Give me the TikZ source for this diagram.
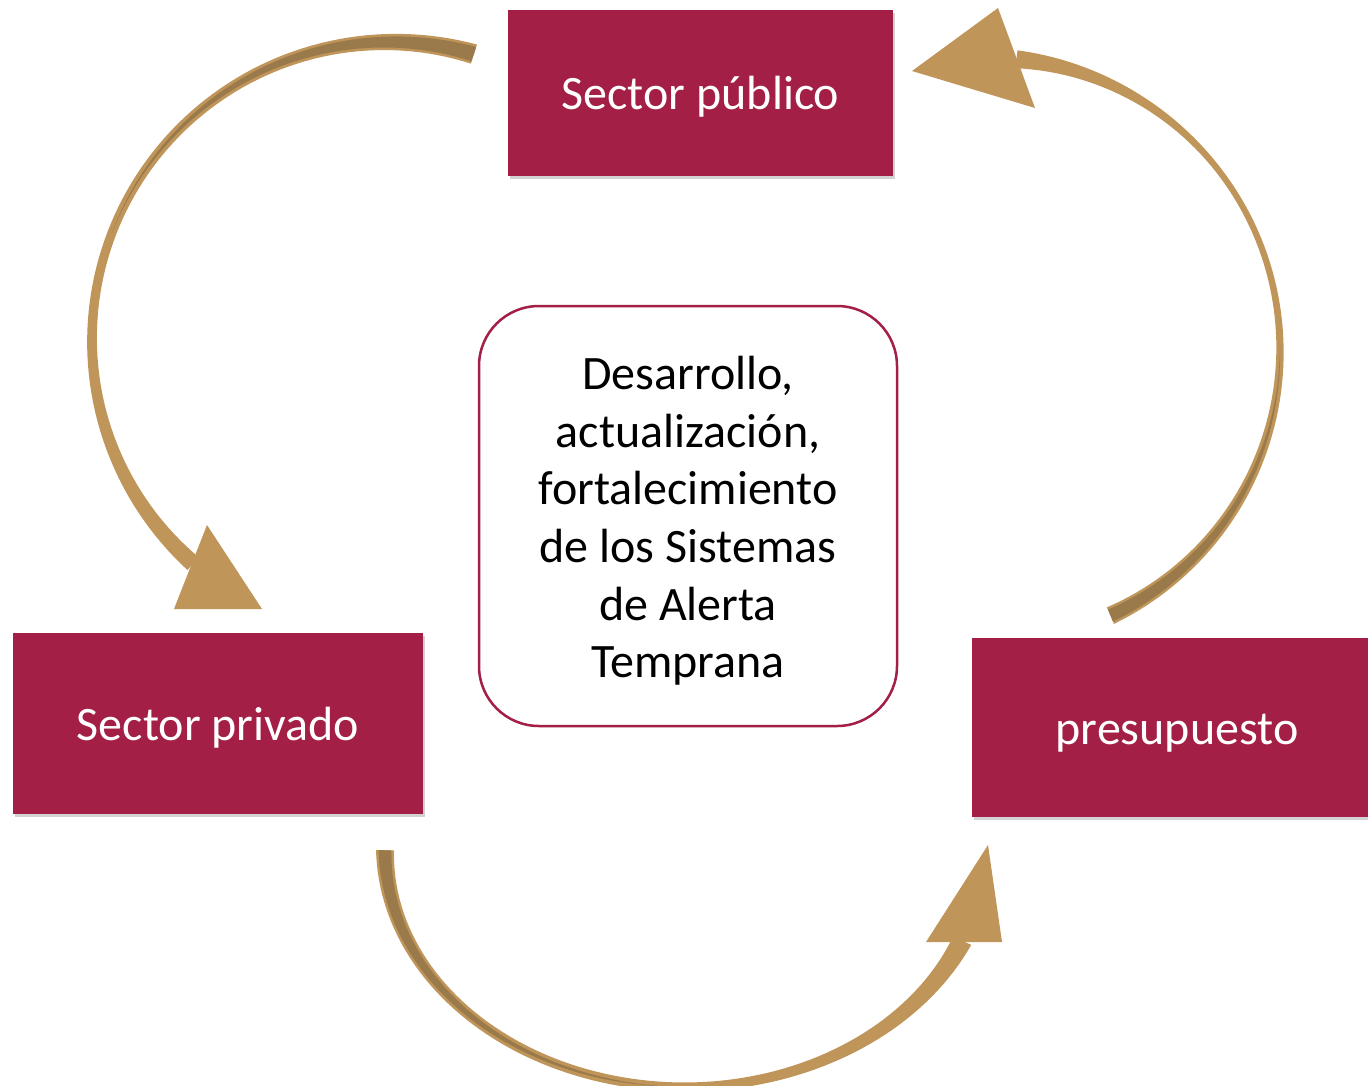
\documentclass[tikz,border=0pt]{standalone}
\usepackage{fontspec}
\setmainfont{Carlito}
\usetikzlibrary{shadows}
\definecolor{guinda}{RGB}{163,31,69}
\definecolor{oro}{RGB}{191,149,90}
\definecolor{orooscuro}{RGB}{154,122,75}

\begin{document}
\begin{tikzpicture}[x=1pt, y=-1pt,
    caja/.style={fill=guinda, text=white, inner sep=0pt, font=\fontsize{48}{57.6}\selectfont,
                 text height=38pt, text depth=5pt,
                 drop shadow={shadow xshift=2pt, shadow yshift=-3pt, opacity=0.35}},
    centro/.style={draw=guinda, line width=2.5pt, fill=white, rounded corners=60pt,
                   minimum width=418pt, minimum height=420pt, align=center,
                   font=\fontsize{48}{57.6}\selectfont},
    declare function={sq(\x)=(\x)*(\x);
        rib(\s,\a,\m,\b,\k)=\m+((\s<\k) ? ((\a-\m)*sq((\s-\k)/\k)) : ((\b-\m)*sq((\s-\k)/(1-\k))));}]

    \path[use as bounding box, fill=white] (0,0) rectangle (1368,1085);

    \foreach \cx/\cy/\rx/\ry/\ta/\tb/\wa/\wm/\wb/\sm/\se in {
        390/340/298/298/-73.6/-228.7/20/9/17/0.55/0.55,
        990/350/290/292/65.5/-84.8/18/6/18/0.65/0.45,
        685/850/300/237/180/22.5/18/9/20/0.55/0.55}
    {
        \fill[oro] plot[domain=0:1, samples=90, variable=\s]
            ({\cx+(\rx+0.5*rib(\s,\wa,\wm,\wb,\sm))*cos(\ta+(\tb-\ta)*\s)},
             {\cy+(\ry+0.5*rib(\s,\wa,\wm,\wb,\sm))*sin(\ta+(\tb-\ta)*\s)})
            -- plot[domain=1:0, samples=90, variable=\s]
            ({\cx+(\rx-0.5*rib(\s,\wa,\wm,\wb,\sm))*cos(\ta+(\tb-\ta)*\s)},
             {\cy+(\ry-0.5*rib(\s,\wa,\wm,\wb,\sm))*sin(\ta+(\tb-\ta)*\s)}) -- cycle;
        \fill[orooscuro] plot[domain=0:\se, samples=60, variable=\s]
            ({\cx+(\rx+0.5*(rib(\s,\wa,\wm,\wb,\sm)-5)*(1-(\s/\se)^3))*cos(\ta+(\tb-\ta)*\s)},
             {\cy+(\ry+0.5*(rib(\s,\wa,\wm,\wb,\sm)-5)*(1-(\s/\se)^3))*sin(\ta+(\tb-\ta)*\s)})
            -- plot[domain=\se:0, samples=60, variable=\s]
            ({\cx+(\rx-0.5*(rib(\s,\wa,\wm,\wb,\sm)-5)*(1-(\s/\se)^3))*cos(\ta+(\tb-\ta)*\s)},
             {\cy+(\ry-0.5*(rib(\s,\wa,\wm,\wb,\sm)-5)*(1-(\s/\se)^3))*sin(\ta+(\tb-\ta)*\s)}) -- cycle;
    }

    \fill[oro] (207,525) -- (174,609) -- (262,609) -- cycle;
    \fill[oro] (998,8) -- (912,71) -- (1035,108) -- cycle;
    \fill[oro] (926,942) -- (1002,942) -- (988,845) -- cycle;

    \node[caja, minimum width=385pt, minimum height=166pt] (publico) at (700.5,93) {Sector público};
    \node[caja, minimum width=410pt, minimum height=181pt] (privado) at (218,723.5) {Sector privado};
    \node[caja, minimum width=410pt, minimum height=179pt] (presupuesto) at (1177,727.5) {presupuesto};

    \node[centro] (sat) at (688,516) {\rule{0pt}{43pt}Desarrollo,\\actualización,\\fortalecimiento\\de los Sistemas\\de Alerta\\Temprana};

\end{tikzpicture}
\end{document}
